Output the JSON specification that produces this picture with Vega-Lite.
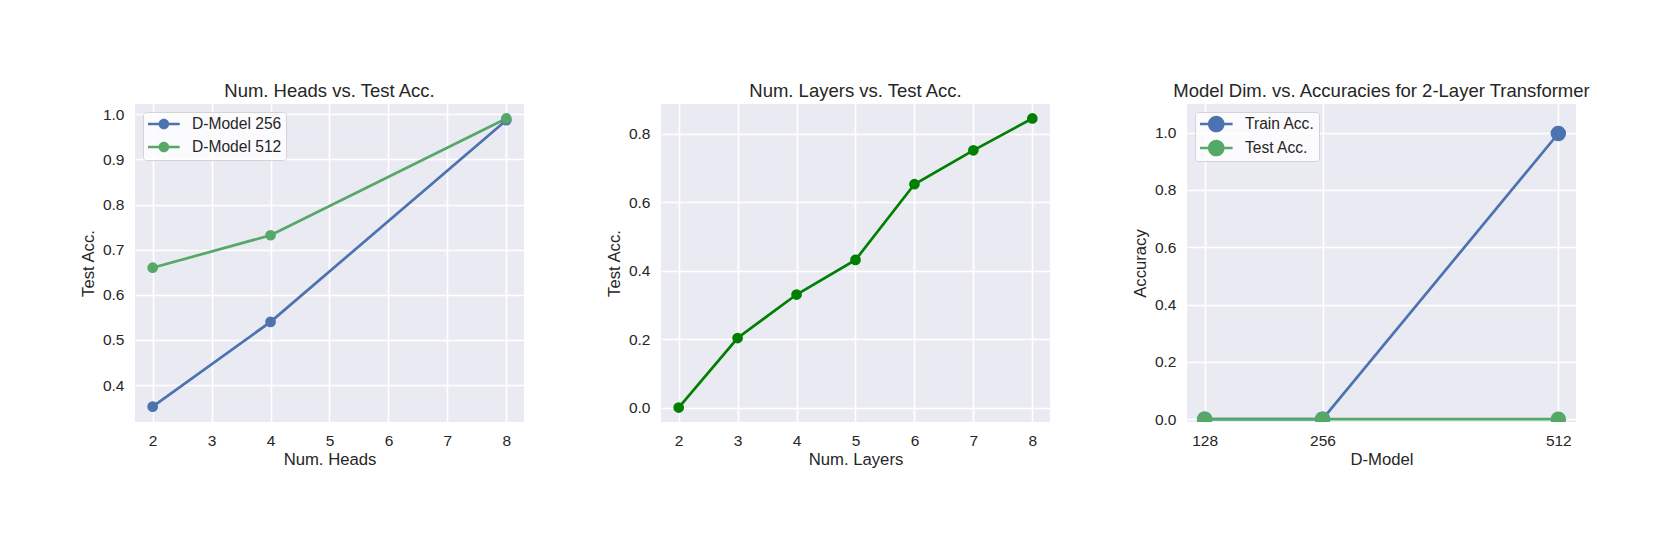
{
  "$schema": "https://vega.github.io/schema/vega-lite/v6.json",
  "background": "white",
  "padding": {"left": 80, "top": 81, "right": 5, "bottom": 5},
  "bounds": "flush",
  "spacing": 137,
  "datasets": {
    "heads": [
      {"heads": 2, "acc": 0.352, "model": "D-Model 256"},
      {"heads": 4, "acc": 0.540, "model": "D-Model 256"},
      {"heads": 8, "acc": 0.987, "model": "D-Model 256"},
      {"heads": 2, "acc": 0.660, "model": "D-Model 512"},
      {"heads": 4, "acc": 0.732, "model": "D-Model 512"},
      {"heads": 8, "acc": 0.991, "model": "D-Model 512"}
    ],
    "layers": [
      {"layers": 2, "acc": 0.0},
      {"layers": 3, "acc": 0.203},
      {"layers": 4, "acc": 0.330},
      {"layers": 5, "acc": 0.431},
      {"layers": 6, "acc": 0.652},
      {"layers": 7, "acc": 0.751},
      {"layers": 8, "acc": 0.844}
    ],
    "dmodel": [
      {"dm": 128, "acc": 0.0, "series": "Train Acc."},
      {"dm": 256, "acc": 0.0, "series": "Train Acc."},
      {"dm": 512, "acc": 0.997, "series": "Train Acc."},
      {"dm": 128, "acc": 0.0, "series": "Test Acc."},
      {"dm": 256, "acc": 0.0, "series": "Test Acc."},
      {"dm": 512, "acc": 0.0, "series": "Test Acc."}
    ]
  },
  "hconcat": [
    {
      "width": 389,
      "height": 318,
      "title": "Num. Heads vs. Test Acc.",
      "data": {"name": "heads"},
      "encoding": {
        "x": {"field": "heads", "type": "quantitative", "scale": {"domain": [1.7, 8.3], "nice": false, "zero": false}, "axis": {"values": [2, 3, 4, 5, 6, 7, 8], "format": "d", "title": "Num. Heads"}},
        "y": {"field": "acc", "type": "quantitative", "scale": {"domain": [0.318, 1.023], "nice": false, "zero": false}, "axis": {"values": [0.4, 0.5, 0.6, 0.7, 0.8, 0.9, 1.0], "format": ".1f", "title": "Test Acc."}}
      },
      "layer": [
        {"transform": [{"filter": "datum.model === 'D-Model 256'"}], "mark": {"type": "line", "strokeWidth": 2.7, "color": "#4C72B0"}},
        {"transform": [{"filter": "datum.model === 'D-Model 512'"}], "mark": {"type": "line", "strokeWidth": 2.7, "color": "#55A868"}},
        {"mark": {"type": "point", "filled": true, "opacity": 1, "size": 115, "shape": "circle"},
         "encoding": {
           "color": {"field": "model", "type": "nominal", "scale": {"domain": ["D-Model 256", "D-Model 512"], "range": ["#4C72B0", "#55A868"]},
             "legend": {"title": null, "orient": "top-left", "symbolType": "M-0.875,-0.17H3.09V0.17H-0.875Z M1.77,0A0.66,0.66,0,1,1,0.45,0A0.66,0.66,0,1,1,1.77,0Z", "symbolSize": 256, "labelOffset": 29}}
         }}
      ]
    },
    {
      "width": 389,
      "height": 318,
      "title": "Num. Layers vs. Test Acc.",
      "data": {"name": "layers"},
      "encoding": {
        "x": {"field": "layers", "type": "quantitative", "scale": {"domain": [1.7, 8.3], "nice": false, "zero": false}, "axis": {"values": [2, 3, 4, 5, 6, 7, 8], "format": "d", "title": "Num. Layers"}},
        "y": {"field": "acc", "type": "quantitative", "scale": {"domain": [-0.0422, 0.8862], "nice": false, "zero": false}, "axis": {"values": [0.0, 0.2, 0.4, 0.6, 0.8], "format": ".1f", "title": "Test Acc."}}
      },
      "layer": [
        {"mark": {"type": "line", "strokeWidth": 2.7, "color": "#008000"}},
        {"mark": {"type": "point", "filled": true, "opacity": 1, "size": 115, "shape": "circle", "color": "#008000"}}
      ]
    },
    {
      "width": 389,
      "height": 318,
      "title": "Model Dim. vs. Accuracies for 2-Layer Transformer",
      "data": {"name": "dmodel"},
      "encoding": {
        "x": {"field": "dm", "type": "quantitative", "scale": {"domain": [108.8, 531.2], "nice": false, "zero": false}, "axis": {"values": [128, 256, 512], "format": "d", "title": "D-Model"}},
        "y": {"field": "acc", "type": "quantitative", "scale": {"domain": [-0.01, 1.1], "nice": false, "zero": false}, "axis": {"values": [0.0, 0.2, 0.4, 0.6, 0.8, 1.0], "format": ".1f", "title": "Accuracy"}}
      },
      "layer": [
        {"transform": [{"filter": "datum.series === 'Train Acc.'"}], "mark": {"type": "line", "strokeWidth": 2.7, "clip": true, "color": "#4C72B0"}},
        {"transform": [{"filter": "datum.series === 'Train Acc.'"}], "mark": {"type": "point", "filled": true, "opacity": 1, "size": 240, "shape": "circle", "clip": true},
         "encoding": {"color": {"field": "series", "type": "nominal", "scale": {"domain": ["Train Acc.", "Test Acc."], "range": ["#4C72B0", "#55A868"]},
           "legend": {"title": null, "orient": "top-left", "symbolType": "M-0.875,-0.17H3.2V0.17H-0.875Z M2.2,0A1.04,1.04,0,1,1,0.12,0A1.04,1.04,0,1,1,2.2,0Z", "symbolSize": 256, "labelOffset": 30}}}},
        {"transform": [{"filter": "datum.series === 'Test Acc.'"}], "mark": {"type": "line", "strokeWidth": 2.7, "clip": true, "color": "#55A868"}},
        {"transform": [{"filter": "datum.series === 'Test Acc.'"}], "mark": {"type": "point", "filled": true, "opacity": 1, "size": 240, "shape": "circle", "clip": true},
         "encoding": {"color": {"field": "series", "type": "nominal", "scale": {"domain": ["Train Acc.", "Test Acc."], "range": ["#4C72B0", "#55A868"]},
           "legend": {"title": null, "orient": "top-left", "symbolType": "M-0.875,-0.17H3.2V0.17H-0.875Z M2.2,0A1.04,1.04,0,1,1,0.12,0A1.04,1.04,0,1,1,2.2,0Z", "symbolSize": 256, "labelOffset": 30}}}}
      ]
    }
  ],
  "resolve": {"scale": {"color": "independent"}, "legend": {"color": "independent"}},
  "config": {
    "font": "Liberation Sans",
    "view": {"fill": "#EAEAF2", "stroke": null},
    "title": {"fontSize": 18.5, "fontWeight": "normal", "color": "#262626", "offset": 4, "anchor": "middle"},
    "axis": {
      "domain": false,
      "ticks": false,
      "grid": true,
      "gridColor": "#FFFFFF",
      "gridWidth": 1.6,
      "labelFontSize": 15.5,
      "labelColor": "#262626",
      "labelPadding": 11,
      "titleFontSize": 16.7,
      "titleFontWeight": "normal",
      "titleColor": "#262626",
      "titlePadding": 5
    },
    "axisX": {"titlePadding": 3},
    "legend": {
      "offset": 8,
      "padding": 4,
      "fillColor": "rgba(255,255,255,0.8)",
      "strokeColor": "#d4d4d8",
      "cornerRadius": 3,
      "labelFontSize": 15.6,
      "labelColor": "#262626",
      "rowPadding": 6,
      "symbolStrokeWidth": 0,
      "symbolOpacity": 1
    }
  }
}
